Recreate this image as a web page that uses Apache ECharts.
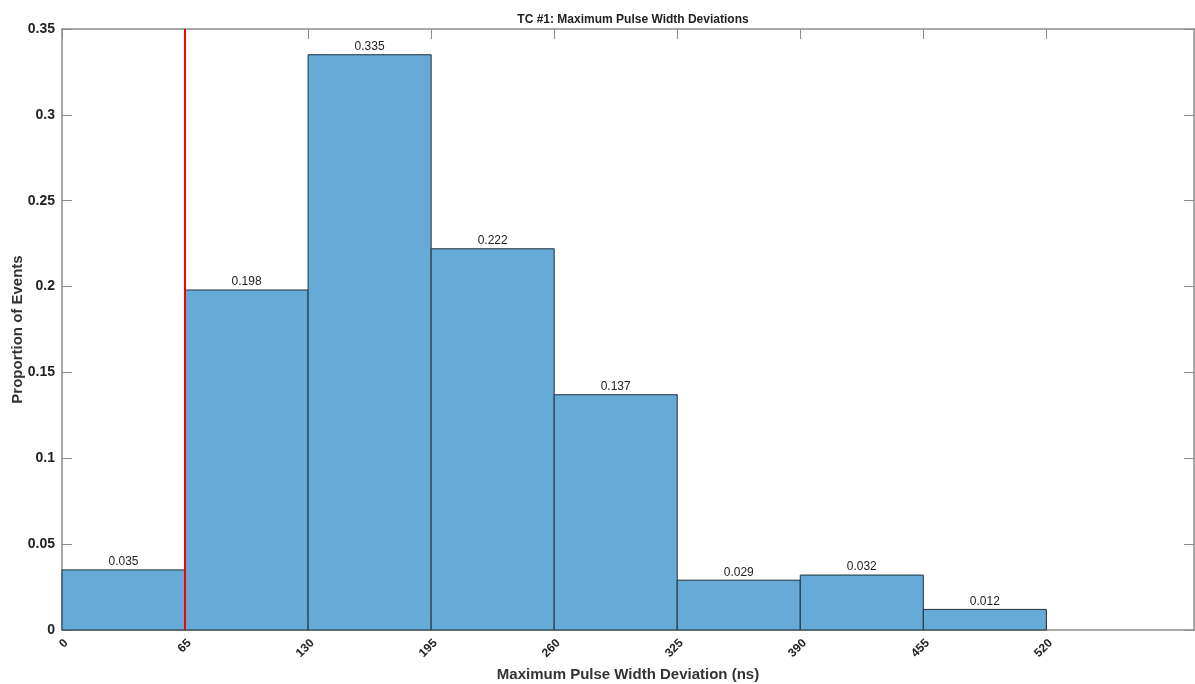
<!DOCTYPE html>
<html><head><meta charset="utf-8">
<script src="https://cdn.jsdelivr.net/npm/echarts@6/dist/echarts.min.js"></script>
<style>html,body{margin:0;padding:0;background:#fff}#c{width:1195px;height:684px}</style>
</head><body><div id="c"></div>
<script>
const binEdges = [0, 65, 130, 195, 260, 325, 390, 455, 520];
const proportions = [0.035, 0.198, 0.335, 0.222, 0.137, 0.029, 0.032, 0.012];
const xTicks = [0, 65, 130, 195, 260, 325, 390, 455, 520];
const thresholdX = 65;

const bins = proportions.map((v, i) => [binEdges[i], binEdges[i + 1], v]);
const chart = echarts.init(document.getElementById('c'));
const FONT = '"Liberation Sans", Arial, sans-serif';
const axisGray = '#8c8c8c';
chart.setOption({
  animation: false,
  title: { text: 'TC #1: Maximum Pulse Width Deviations', left: 628, top: 9, textAlign: 'center',
    textStyle: { fontFamily: FONT, fontSize: 12, fontWeight: 'bold', color: '#222' } },
  grid: { left: 62, right: 1, top: 29, bottom: 54, outerBoundsMode: 'none', containLabel: false },
  xAxis: [{
    type: 'value', min: 0, max: 598, position: 'bottom',
    name: 'Maximum Pulse Width Deviation (ns)', nameLocation: 'middle', nameGap: 37, nameMoveOverlap: false,
    nameTextStyle: { fontFamily: FONT, fontSize: 15, fontWeight: 'bold', color: '#333' },
    axisLine: { onZero: false, lineStyle: { color: axisGray, width: 1.5 } },
    axisTick: { inside: true, length: 10, lineStyle: { color: axisGray }, customValues: xTicks },
    axisLabel: { rotate: 45, verticalAlign: 'top', fontFamily: FONT, fontSize: 12, fontWeight: 'bold', color: '#222', margin: 7,
      customValues: xTicks },
    splitLine: { show: false }
  }, {
    type: 'value', min: 0, max: 598, position: 'top',
    axisLine: { show: true, onZero: false, lineStyle: { color: axisGray, width: 1.5 } },
    axisTick: { inside: true, length: 10, lineStyle: { color: axisGray }, customValues: xTicks },
    axisLabel: { show: false }, splitLine: { show: false }
  }],
  yAxis: [{
    type: 'value', min: 0, max: 0.35, interval: 0.05, position: 'left',
    name: 'Proportion of Events', nameLocation: 'middle', nameGap: 37, nameMoveOverlap: false,
    nameTextStyle: { fontFamily: FONT, fontSize: 15, fontWeight: 'bold', color: '#333' },
    axisLine: { show: true, onZero: false, lineStyle: { color: axisGray, width: 1.5 } },
    axisTick: { show: true, inside: true, length: 10, lineStyle: { color: axisGray } },
    axisLabel: { fontFamily: FONT, fontSize: 14, fontWeight: 'bold', color: '#222', margin: 7,
      formatter: v => (v === 0 ? '0' : String(+v.toFixed(2))) },
    splitLine: { show: false }
  }, {
    type: 'value', min: 0, max: 0.35, interval: 0.05, position: 'right',
    axisLine: { show: true, onZero: false, lineStyle: { color: axisGray, width: 1.5 } },
    axisTick: { show: true, inside: true, length: 10, lineStyle: { color: axisGray } },
    axisLabel: { show: false }, splitLine: { show: false }
  }],
  series: [{
    type: 'custom',
    data: bins,
    encode: { x: [0, 1], y: 2 },
    renderItem: function (params, api) {
      const p0 = api.coord([api.value(0), api.value(2)]);
      const p1 = api.coord([api.value(1), 0]);
      return {
        type: 'group',
        children: [{
          type: 'rect',
          shape: { x: p0[0], y: p0[1], width: p1[0] - p0[0], height: p1[1] - p0[1] },
          style: { fill: '#66aad7', stroke: '#1f2f3a', lineWidth: 1 }
        }, {
          type: 'text',
          style: { text: api.value(2).toFixed(3), x: (p0[0] + p1[0]) / 2, y: p0[1] - 2,
            align: 'center', verticalAlign: 'bottom', fontFamily: FONT, fontSize: 12, fill: '#222' }
        }]
      };
    },
    z: 2
  }, {
    type: 'line', data: [], silent: true,
    markLine: {
      symbol: 'none', silent: true, label: { show: false },
      lineStyle: { color: '#ff0000', width: 2, type: 'solid' },
      data: [{ xAxis: thresholdX }]
    },
    z: 5
  }]
});
</script></body></html>
